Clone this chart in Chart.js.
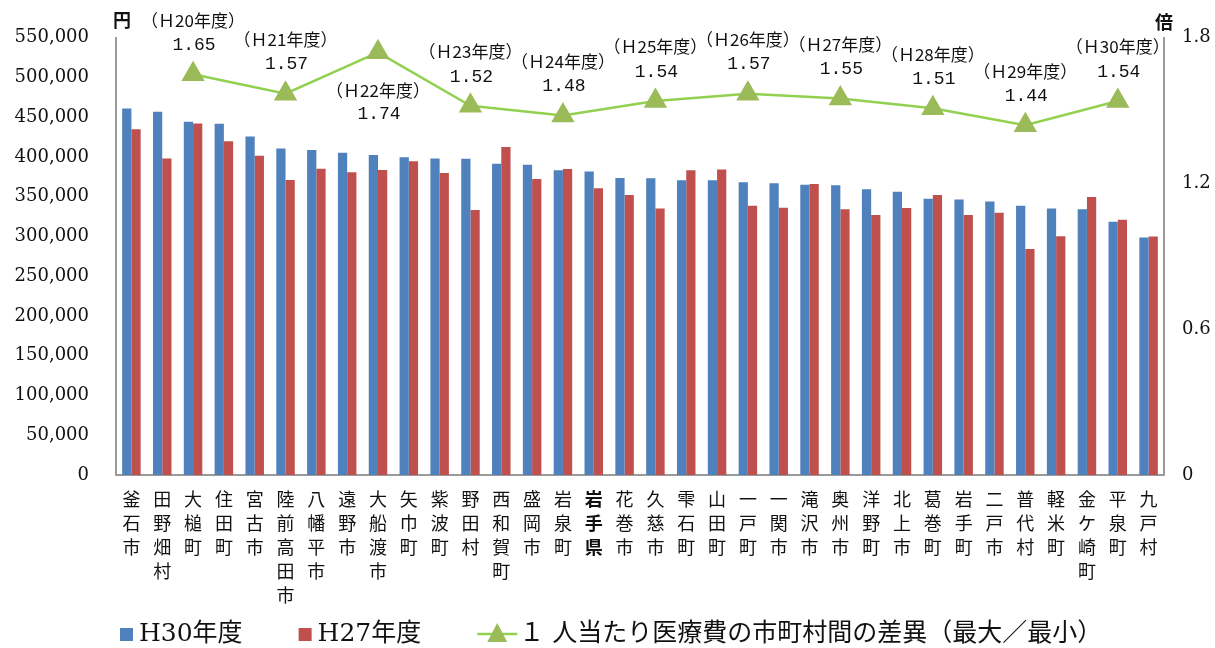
<!DOCTYPE html>
<html>
<head>
<meta charset="utf-8">
<script src="https://cdn.jsdelivr.net/npm/chart.js@4"></script>
<style>
  html, body { margin: 0; padding: 0; background: #fff; }
  #wrap { width: 1215px; height: 648px; }
</style>
</head>
<body>
<div id="wrap"><canvas id="myChart"></canvas></div>
<script>
// data
const towns = ['釜石市', '田野畑村', '大槌町', '住田町', '宮古市', '陸前高田市', '八幡平市', '遠野市', '大船渡市',
  '矢巾町', '紫波町', '野田村', '西和賀町', '盛岡市', '岩泉町', '岩手県', '花巻市', '久慈市', '雫石町', '山田町',
  '一戸町', '一関市', '滝沢市', '奥州市', '洋野町', '北上市', '葛巻町', '岩手町', '二戸市', '普代村', '軽米町',
  '金ケ崎町', '平泉町', '九戸村'];
const h30 = [461000, 457000, 444500, 442000, 425800, 410800, 408700, 405400, 402500, 399600, 398300, 397900,
  391700, 390400, 383300, 381700, 373700, 373300, 370800, 370800, 368300, 367100, 365000, 364600, 359600,
  356200, 347500, 346700, 344200, 338700, 335400, 334200, 318700, 298700];
const h27 = [435000, 398300, 442100, 420000, 401700, 371200, 385400, 380800, 383700, 394600, 380000, 333300,
  412500, 372500, 385000, 360800, 352100, 335400, 383300, 384200, 338700, 336200, 366200, 334200, 327100,
  335800, 352100, 327100, 330000, 284200, 300400, 349600, 321200, 300000];
const diffYears = ['H20', 'H21', 'H22', 'H23', 'H24', 'H25', 'H26', 'H27', 'H28', 'H29', 'H30'];
const diffValues = [1.65, 1.57, 1.74, 1.52, 1.48, 1.54, 1.57, 1.55, 1.51, 1.44, 1.54];
const leftTicks = { min: 0, max: 550000, step: 50000 };
const rightTicks = { min: 0, max: 1.8, step: 0.6 };

const BLUE = '#4F81BD';
const RED = '#C0504D';
const GREEN_LINE = '#92D050';
const GREEN_PT = '#9BBB59';
const AXIS = '#9a9a9a';

// the ratio line sits on every third town slot, starting at the third one
const lineData = towns.map(() => null);
diffValues.forEach((v, i) => { lineData[i * 3 + 2] = v; });

// vertical labels: one character per line
const vLabels = towns.map(t => t.split(''));

const toFull = s => s.replace('H', 'Ｈ');

const extras = {
  id: 'extras',
  afterDatasetsDraw(chart) {
    const c = chart.ctx;
    const meta = chart.getDatasetMeta(2);
    c.save();
    c.fillStyle = '#111';
    c.textAlign = 'center';
    c.textBaseline = 'middle';
    let k = 0;
    meta.data.forEach((pt, i) => {
      if (lineData[i] === null) return;
      const yr = '（' + toFull(diffYears[k]) + '年度）';
      const val = diffValues[k].toFixed(2);
      let y1 = pt.y - 54, y2 = pt.y - 29;
      if (y1 < 12) { y1 = pt.y + 38; y2 = pt.y + 62; }
      c.font = '17px "Noto Sans CJK JP"';
      c.fillText(yr, pt.x, y1);
      c.font = '18px "Liberation Mono"';
      c.fillText(val, pt.x + 1, y2);
      k++;
    });
    c.restore();
  },
  afterDraw(chart) {
    const c = chart.ctx;
    const yl = chart.scales.y;
    const yr = chart.scales.y1;
    c.save();
    c.fillStyle = '#111';
    c.textBaseline = 'middle';
    c.font = 'bold 18px "Noto Sans CJK JP"';
    c.textAlign = 'center';
    c.fillText('円', yl.right + 6, 20);
    c.fillText('倍', yr.left, 22);

    // legend
    const ly = 634;
    let x = 120;
    const items = [
      { type: 'box', color: BLUE, text: 'H30年度' },
      { type: 'box', color: RED, text: 'H27年度' },
      { type: 'line', color: GREEN_PT, text: '１ 人当たり医療費の市町村間の差異（最大／最小）' }
    ];
    c.textAlign = 'left';
    items.forEach(it => {
      if (it.type === 'box') {
        c.fillStyle = it.color;
        c.fillRect(x, ly - 6, 13, 13);
        x += 19;
      } else {
        c.strokeStyle = GREEN_LINE;
        c.lineWidth = 2.5;
        c.beginPath();
        c.moveTo(x, ly);
        c.lineTo(x + 40, ly);
        c.stroke();
        c.fillStyle = it.color;
        c.beginPath();
        c.moveTo(x + 20, ly - 11);
        c.lineTo(x + 30, ly + 8);
        c.lineTo(x + 10, ly + 8);
        c.closePath();
        c.fill();
        x += 42;
      }
      c.fillStyle = '#111';
      c.font = '25px "DejaVu Serif", "Noto Sans CJK JP"';
      c.fillText(it.text, x, ly);
      x += c.measureText(it.text).width + 56;
    });
    c.restore();
  }
};

const ctx = document.getElementById('myChart');
new Chart(ctx, {
  data: {
    labels: vLabels,
    datasets: [
      {
        type: 'bar',
        label: 'H30年度',
        data: h30,
        backgroundColor: BLUE,
        yAxisID: 'y',
        order: 2,
        categoryPercentage: 0.6,
        barPercentage: 1.0
      },
      {
        type: 'bar',
        label: 'H27年度',
        data: h27,
        backgroundColor: RED,
        yAxisID: 'y',
        order: 2,
        categoryPercentage: 0.6,
        barPercentage: 1.0
      },
      {
        type: 'line',
        label: '１人当たり医療費の市町村間の差異（最大／最小）',
        data: lineData,
        yAxisID: 'y1',
        spanGaps: true,
        borderColor: GREEN_LINE,
        borderWidth: 2.5,
        pointStyle: 'triangle',
        pointRadius: 11,
        pointBackgroundColor: GREEN_PT,
        pointBorderColor: GREEN_PT,
        order: 0
      }
    ]
  },
  options: {
    responsive: true,
    maintainAspectRatio: false,
    animation: false,
    layout: { padding: { top: 32, bottom: 0, left: 0, right: 0 } },
    plugins: {
      legend: { display: false },
      tooltip: { enabled: false }
    },
    scales: {
      x: {
        grid: { display: false, drawTicks: false },
        border: { color: AXIS, width: 2 },
        ticks: {
          autoSkip: false,
          maxRotation: 0,
          minRotation: 0,
          padding: 12,
          color: '#111',
          font: (c) => ({
            family: '"Noto Sans CJK JP"',
            size: 18,
            lineHeight: 1.33,
            weight: towns[c.index] === '岩手県' ? 'bold' : 'normal'
          })
        },
        afterFit(scale) { scale.height = 648 - 475; }
      },
      y: {
        position: 'left',
        min: leftTicks.min,
        max: leftTicks.max,
        grid: { display: false, drawTicks: false },
        border: { color: AXIS, width: 2 },
        ticks: {
          stepSize: leftTicks.step,
          padding: 27,
          color: '#111',
          font: { family: '"DejaVu Serif"', size: 18 },
          callback: v => v.toLocaleString('en-US')
        },
        afterFit(scale) { scale.width = 116; }
      },
      y1: {
        position: 'right',
        min: rightTicks.min,
        max: rightTicks.max,
        grid: { display: false, drawTicks: false },
        border: { color: AXIS, width: 2 },
        ticks: {
          stepSize: rightTicks.step,
          padding: 18,
          color: '#111',
          font: { family: '"DejaVu Serif"', size: 18 },
          callback: v => Math.round(v * 10) / 10
        },
        afterFit(scale) { scale.width = 1215 - 1164; }
      }
    }
  },
  plugins: [extras]
});
</script>
</body>
</html>
